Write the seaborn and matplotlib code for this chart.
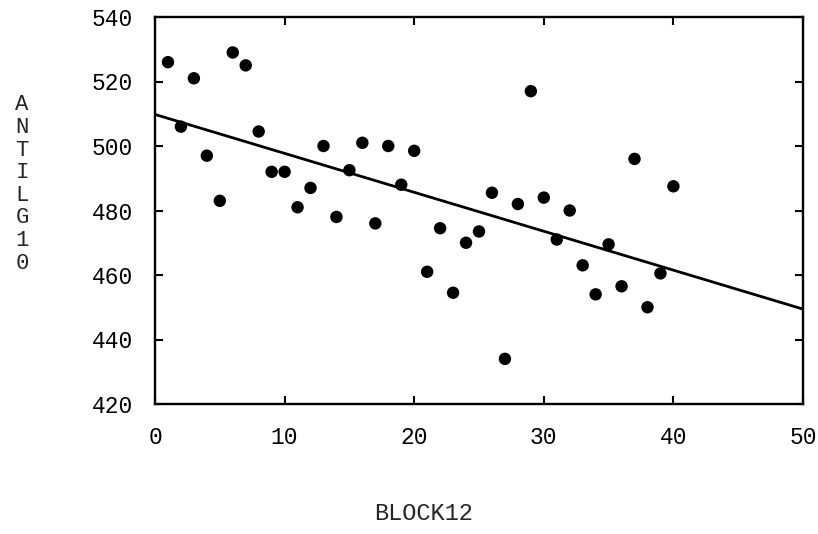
import numpy as np
import pandas as pd
import matplotlib
matplotlib.use("Agg")
import matplotlib.pyplot as plt
import seaborn as sns

block12 = list(range(1, 41))
antilg10 = [526, 506, 521, 497, 483, 529, 525, 504.5, 492, 492,
            481, 487, 500, 478, 492.5, 501, 476, 500, 488, 498.5,
            461, 474.5, 454.5, 470, 473.5, 485.5, 434, 482, 517, 484,
            471, 480, 463, 454, 469.5, 456.5, 496, 450, 460.5, 487.5]
x_ticks = [0, 10, 20, 30, 40, 50]
y_ticks = [420, 440, 460, 480, 500, 520, 540]

df = pd.DataFrame({"BLOCK12": block12, "ANTILG10": antilg10})

sns.set_style("ticks")
plt.rcParams["font.family"] = ["Liberation Mono", "DejaVu Sans Mono"]

fig = plt.figure(figsize=(8.18, 5.34), dpi=100)
ax = fig.add_axes([155 / 818, 1 - 404 / 534, (803 - 155) / 818, (404 - 17) / 534])
ax.set_xlim(0, 50)
ax.set_ylim(420, 540)

sns.regplot(data=df, x="BLOCK12", y="ANTILG10", ax=ax, ci=None, truncate=False,
            color="black",
            scatter_kws={"s": 80, "edgecolor": "none", "alpha": 1},
            line_kws={"linewidth": 2.0})

ax.set_xticks(x_ticks)
ax.set_yticks(y_ticks)
ax.tick_params(direction="in", length=6, width=1.5, top=True, right=True,
               labelsize=16.5, pad=16, colors="black")
for s in ax.spines.values():
    s.set_linewidth(1.7)
    s.set_color("black")
ax.set_xlabel("")
ax.set_ylabel("")

fig.text(424 / 818, 1 - 514 / 534, "BLOCK12", ha="center", va="center", fontsize=17)
fig.text(22 / 818, 1 - 184 / 534, "\n".join("ANTILG10"), ha="center", va="center",
         fontsize=16, linespacing=1.1)

fig.savefig("out.png", dpi=100)
